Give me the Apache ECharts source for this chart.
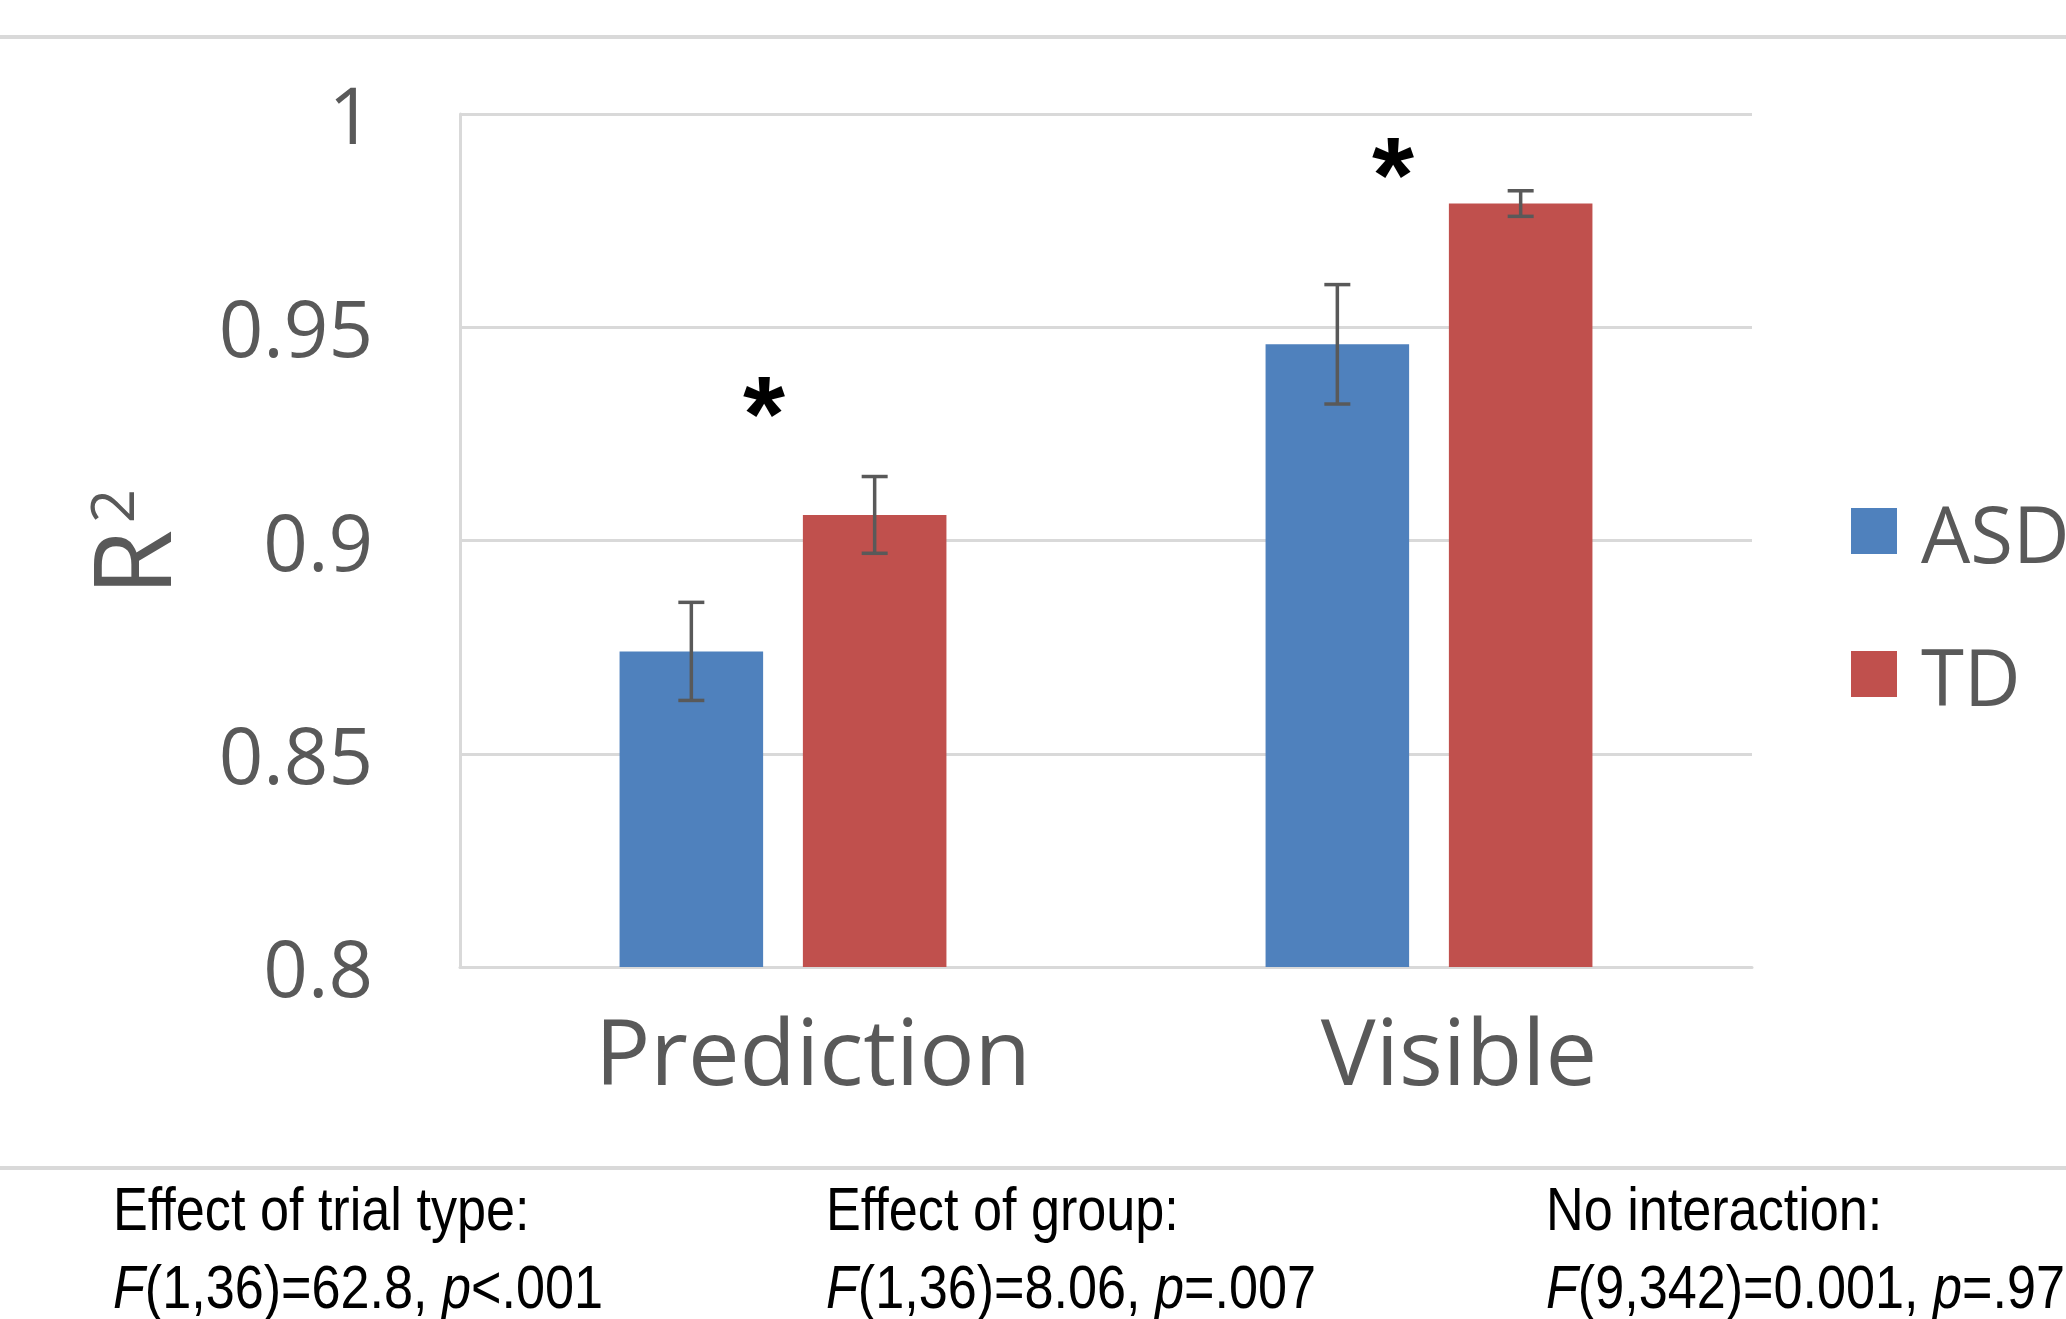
<!DOCTYPE html>
<html>
<head>
<meta charset="utf-8">
<script src="https://cdn.jsdelivr.net/npm/echarts@6/dist/echarts.min.js"></script>
<style>
html,body{margin:0;padding:0;background:#fff;}
#chart{width:2066px;height:1319px;}
</style>
</head>
<body>
<div id="chart"></div>
<script>
// ---- data ----
const categories = ['Prediction', 'Visible'];
const seriesNames = ['ASD', 'TD'];
const asdMeans = [0.874, 0.946];
const tdMeans = [0.906, 0.979];
const asdErrors = [0.0115, 0.014];
const tdErrors = [0.009, 0.003];
const starLevels = [0.933, 0.989];
const yTicks = [0.8, 0.85, 0.9, 0.95, 1];
const statsHeaders = ['Effect of trial type:', 'Effect of group:', 'No interaction:'];
const statsLines = ['{i|F}(1,36)=62.8, {i|p}<.001', '{i|F}(1,36)=8.06, {i|p}=.007', '{i|F}(9,342)=0.001, {i|p}=.97'];

// ---- style ----
const COLORS = ['#4f81bd', '#c0504d'];
const GRAY_TEXT = '#595959';
const GRID_COLOR = '#d9d9d9';
const CAT_GAP = 0.494;
const BAR_GAP = 0.277;
const FONT = '"Open Sans", "Noto Sans", sans-serif';
const STAR_SIZE = 108;

const chart = echarts.init(document.getElementById('chart'), null, {renderer: 'canvas'});

function barOffset(api, seriesIdx) {
  const band = api.size([1, 0])[0];
  const groupW = band * (1 - CAT_GAP);
  const barW = groupW / (2 + BAR_GAP);
  return (seriesIdx === 0 ? -1 : 1) * barW * (1 + BAR_GAP) / 2;
}

function errorRender(seriesIdx) {
  return function (params, api) {
    const x = api.value(0), m = api.value(1), e = api.value(2);
    const hi = api.coord([x, m + e]);
    const lo = api.coord([x, m - e]);
    const cx = hi[0] + barOffset(api, seriesIdx);
    const cap = 13;
    const st = {stroke: GRAY_TEXT, lineWidth: 3.5};
    return {
      type: 'group',
      children: [
        {type: 'line', shape: {x1: cx, y1: hi[1], x2: cx, y2: lo[1]}, style: st},
        {type: 'line', shape: {x1: cx - cap, y1: hi[1], x2: cx + cap, y2: hi[1]}, style: st},
        {type: 'line', shape: {x1: cx - cap, y1: lo[1], x2: cx + cap, y2: lo[1]}, style: st}
      ]
    };
  };
}

const starShift = [-19, -36];

const graphic = [
  {type: 'rect', shape: {x: 0, y: 35, width: 2066, height: 4}, style: {fill: GRID_COLOR}, silent: true},
  {type: 'rect', shape: {x: 0, y: 1166, width: 2066, height: 4}, style: {fill: GRID_COLOR}, silent: true},
  {type: 'text', x: 140, y: 563, rotation: Math.PI / 2,
   style: {text: 'R', font: '108px ' + FONT, fill: GRAY_TEXT, align: 'center', verticalAlign: 'middle'}},
  {type: 'text', x: 117, y: 506, rotation: Math.PI / 2,
   style: {text: '2', font: '60px ' + FONT, fill: GRAY_TEXT, align: 'center', verticalAlign: 'middle'}}
];
const colX = [113, 826, 1546];
statsHeaders.forEach(function (h, i) {
  graphic.push({type: 'text', x: colX[i], y: 1213, scaleX: 0.855,
    style: {text: h, font: '61px "Liberation Sans", Arial, sans-serif', fill: '#000', align: 'left', verticalAlign: 'middle'}});
  graphic.push({type: 'text', x: colX[i], y: 1291, scaleX: 0.855,
    style: {text: statsLines[i], font: '61px "Liberation Sans", Arial, sans-serif', fill: '#000', align: 'left', verticalAlign: 'middle',
      rich: {i: {fontStyle: 'italic', fontSize: 61, fontFamily: '"Liberation Sans", Arial, sans-serif', fill: '#000'}}}});
});

const option = {
  backgroundColor: '#ffffff',
  animation: false,
  grid: {left: 460, right: 314, top: 114, bottom: 352, containLabel: false},
  legend: {
    data: seriesNames,
    orient: 'vertical',
    left: 1851, top: 482,
    padding: 0,
    itemGap: 45,
    itemWidth: 46, itemHeight: 46,
    icon: 'rect',
    formatter: '{a|{name}}',
    textStyle: {fontSize: 78, color: GRAY_TEXT, fontFamily: FONT,
      rich: {a: {fontSize: 78, color: GRAY_TEXT, fontFamily: FONT, lineHeight: 46, padding: [20, 0, 0, 19]}}}
  },
  xAxis: {
    type: 'category',
    data: categories,
    axisLine: {show: true, lineStyle: {color: GRID_COLOR, width: 3}},
    axisTick: {show: false},
    axisLabel: {fontSize: 92, lineHeight: 92, color: GRAY_TEXT, fontFamily: FONT, margin: 46, padding: [0, 0, 0, 60]}
  },
  yAxis: {
    type: 'value',
    min: yTicks[0], max: yTicks[yTicks.length - 1], interval: 0.05,
    axisLine: {show: true, lineStyle: {color: GRID_COLOR, width: 3}},
    axisTick: {show: false},
    splitLine: {show: true, lineStyle: {color: GRID_COLOR, width: 3}},
    axisLabel: {fontSize: 78, color: GRAY_TEXT, fontFamily: FONT, margin: 87, verticalAlign: 'top', lineHeight: 16}
  },
  graphic: graphic,
  series: [
    {name: 'ASD', type: 'bar', data: asdMeans, itemStyle: {color: COLORS[0]}, barGap: (BAR_GAP * 100) + '%', barCategoryGap: (CAT_GAP * 100) + '%'},
    {name: 'TD', type: 'bar', data: tdMeans, itemStyle: {color: COLORS[1]}, barGap: (BAR_GAP * 100) + '%', barCategoryGap: (CAT_GAP * 100) + '%'},
    {type: 'custom', renderItem: errorRender(0), data: asdMeans.map(function (m, i) { return [i, m, asdErrors[i]]; }), z: 5, silent: true},
    {type: 'custom', renderItem: errorRender(1), data: tdMeans.map(function (m, i) { return [i, m, tdErrors[i]]; }), z: 5, silent: true},
    {type: 'custom', z: 6, silent: true,
     data: starLevels.map(function (v, i) { return [i, v]; }),
     renderItem: function (params, api) {
       const p = api.coord([api.value(0), api.value(1)]);
       return {type: 'text', x: p[0] + starShift[params.dataIndex], y: p[1] + 0.2 * STAR_SIZE,
         style: {text: '*', font: 'bold ' + STAR_SIZE + 'px "Liberation Sans", Arial, sans-serif', fill: '#000', align: 'center', verticalAlign: 'middle'}};
     }}
  ]
};
chart.setOption(option);
</script>
</body>
</html>
